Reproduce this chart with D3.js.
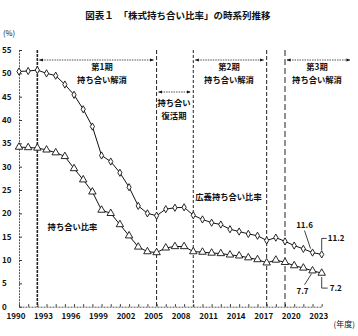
<!DOCTYPE html>
<html>
<head>
<meta charset="utf-8">
<script src="https://cdn.jsdelivr.net/npm/d3@7"></script>
<style>
  html, body { margin: 0; padding: 0; background: #fff; }
  svg { display: block; }
  text { font-family: "Noto Sans CJK JP", "Noto Sans", sans-serif; fill: #111; }
</style>
</head>
<body>
<svg id="chart" width="358" height="336"></svg>
<script>
// Fiscal years 1990–2023
const years = d3.range(1990, 2024);

// 広義持ち合い比率 (%)
const broadRatio = [50.4, 50.5, 50.7, 50.0, 49.5, 47.6, 45.4, 42.3, 38.6, 32.4,
                    31.1, 28.7, 25.6, 21.6, 20.0, 19.5, 20.9, 21.2, 21.3, 19.6,
                    18.7, 18.0, 17.6, 16.6, 16.1, 15.6, 15.2, 14.2, 14.8, 14.0,
                    13.1, 12.4, 11.6, 11.2];

// 持ち合い比率 (%)
const crossRatio = [34.2, 34.1, 34.0, 33.6, 33.0, 32.2, 29.6, 27.2, 24.6, 20.7,
                    20.0, 17.6, 15.2, 12.8, 11.8, 11.6, 12.6, 12.9, 12.9, 11.8,
                    11.7, 11.5, 11.4, 11.1, 10.9, 10.5, 10.1, 9.4, 10.0, 9.5,
                    8.8, 8.3, 7.7, 7.2];

const xTickYears = [1990, 1993, 1996, 1999, 2002, 2005, 2008, 2011, 2014, 2017, 2020, 2023];
const yTickValues = [0, 5, 10, 15, 20, 25, 30, 35, 40, 45, 50, 55];

// Period boundaries (fiscal years)
const boundaryYears = [1992, 2005, 2009, 2017, 2019];

// Period labels
const periods = [
  { lines: ["第1期", "持ち合い解消"] },
  { lines: ["持ち合い", "復活期"] },
  { lines: ["第2期", "持ち合い解消"] },
  { lines: ["第3期", "持ち合い解消"] }
];

const svg = d3.select("#chart");

const x = d3.scaleLinear().domain([1990, 2023]).range([19, 321.7]);
const y = d3.scaleLinear().domain([0, 55]).range([306.7, 50]);

const numFont = "'Liberation Sans Narrow', 'DejaVu Sans Condensed', sans-serif";

// Title
svg.append("text")
  .attr("x", 178).attr("y", 19)
  .attr("text-anchor", "middle")
  .attr("font-size", 9.5).attr("font-weight", "bold")
  .text("図表１　「株式持ち合い比率」の時系列推移");

// Unit labels
svg.append("text").attr("x", 3).attr("y", 36).attr("font-size", 7.5).text("(%)");
svg.append("text").attr("x", 355).attr("y", 327).attr("text-anchor", "end")
  .attr("font-size", 8).text("(年度)");

// Y axis (labels flush left)
const yAxis = svg.append("g").attr("transform", `translate(${x(1990)},0)`)
  .call(d3.axisLeft(y).tickValues(yTickValues).tickSizeInner(-3).tickSizeOuter(0));
yAxis.select(".domain").attr("stroke", "#555").attr("stroke-dasharray", "2,1");
yAxis.selectAll(".tick line").attr("stroke", "#333");
yAxis.selectAll(".tick text")
  .attr("x", 2 - x(1990)).attr("text-anchor", "start")
  .attr("font-size", 8).attr("font-weight", 600).attr("font-family", numFont);

// X axis
const xAxis = svg.append("g").attr("transform", `translate(0,${y(0)})`)
  .call(d3.axisBottom(x).tickValues(years).tickSizeInner(-2.5).tickSizeOuter(0)
    .tickFormat(d => xTickYears.includes(d) ? d : ""));
xAxis.select(".domain").attr("stroke", "#555").attr("stroke-dasharray", "2,1");
xAxis.selectAll(".tick line").attr("stroke", "#333");
xAxis.selectAll(".tick text").attr("font-size", 8).attr("font-weight", 600)
  .attr("dx", -3.5).attr("dy", "1.15em").attr("font-family", numFont);

// Period boundary lines
const dashes = ["3,1", "4,2", "3,2", "4,2", "6,3"];
const widths = [1.6, 1, 1, 1, 1];
svg.append("g").selectAll("line").data(boundaryYears).join("line")
  .attr("x1", d => x(d)).attr("x2", d => x(d))
  .attr("y1", y(55)).attr("y2", y(0))
  .attr("stroke", "#222")
  .attr("stroke-width", (d, i) => widths[i])
  .attr("stroke-dasharray", (d, i) => dashes[i]);

// Arrowheads
const defs = svg.append("defs");
defs.append("marker").attr("id", "arrowEnd")
  .attr("viewBox", "0 0 10 10").attr("refX", 9).attr("refY", 5)
  .attr("markerWidth", 5).attr("markerHeight", 5).attr("orient", "auto")
  .append("path").attr("d", "M0,1L10,5L0,9Z").attr("fill", "#111");
defs.append("marker").attr("id", "arrowStart")
  .attr("viewBox", "0 0 10 10").attr("refX", 1).attr("refY", 5)
  .attr("markerWidth", 5).attr("markerHeight", 5).attr("orient", "auto")
  .append("path").attr("d", "M10,1L0,5L10,9Z").attr("fill", "#111");

// Period arrows and labels
const periodLayout = [
  { x1: x(1992) + 2, x2: x(2005) - 3, ay: 60, cx: 102, ty: 70 },
  { x1: x(2005) + 2, x2: x(2009) - 3, ay: 92, cx: 174, ty: 106 },
  { x1: x(2009) + 2, x2: x(2017) - 3, ay: 60, cx: 229, ty: 70 },
  { x1: x(2019) + 2, x2: 350, ay: 60, cx: 317, ty: 70 }
];
periods.forEach((p, i) => {
  const L = periodLayout[i];
  svg.append("line")
    .attr("x1", L.x1).attr("x2", L.x2).attr("y1", L.ay).attr("y2", L.ay)
    .attr("stroke", "#222").attr("stroke-width", 0.8).attr("stroke-dasharray", "1.5,1")
    .attr("marker-start", "url(#arrowStart)").attr("marker-end", "url(#arrowEnd)");
  p.lines.forEach((t, j) => {
    svg.append("text").attr("x", L.cx).attr("y", L.ty + j * 12.5)
      .attr("text-anchor", "middle").attr("font-size", 8.3).attr("font-weight", 600)
      .text(t);
  });
});

// Series lines
const line = d3.line().x((d, i) => x(years[i])).y(d => y(d));
svg.append("path").datum(broadRatio).attr("d", line)
  .attr("fill", "none").attr("stroke", "#111").attr("stroke-width", 1);
svg.append("path").datum(crossRatio).attr("d", line)
  .attr("fill", "none").attr("stroke", "#111").attr("stroke-width", 1);

// Markers
svg.append("g").selectAll("path").data(broadRatio).join("path")
  .attr("transform", (d, i) => `translate(${x(years[i])},${y(d)})`)
  .attr("d", d3.symbol(d3.symbolDiamond, 15))
  .attr("fill", "#fff").attr("stroke", "#111").attr("stroke-width", 0.9);
svg.append("g").selectAll("path").data(crossRatio).join("path")
  .attr("transform", (d, i) => `translate(${x(years[i])},${y(d)})`)
  .attr("d", d3.symbol(d3.symbolTriangle, 24))
  .attr("fill", "#fff").attr("stroke", "#111").attr("stroke-width", 0.9);

// Series labels
svg.append("text").attr("x", 72.5).attr("y", 230).attr("text-anchor", "middle")
  .attr("font-size", 8.3).attr("font-weight", 600).text("持ち合い比率");
svg.append("text").attr("x", 228.5).attr("y", 200).attr("text-anchor", "middle")
  .attr("font-size", 8.3).attr("font-weight", 600).text("広義持ち合い比率");

// Value callouts for the last two years
const n = years.length;
const callout = svg.append("g").attr("stroke", "#111").attr("stroke-width", 0.8).attr("fill", "none");
const xPrev = x(years[n - 2]), xLast = x(years[n - 1]);
const bPrev = y(broadRatio[n - 2]), bLast = y(broadRatio[n - 1]);
const cPrev = y(crossRatio[n - 2]), cLast = y(crossRatio[n - 1]);

callout.append("path").attr("d", `M${xPrev - 2},${bPrev - 4}L${xPrev - 8},${bPrev - 22}`);
callout.append("path").attr("d", `M${xLast},${bLast - 4}V${bLast - 16}H${xLast + 5}`);
callout.append("path").attr("d", `M${xPrev - 1},${cPrev + 3}L${xPrev - 8},${cPrev + 14}`);
callout.append("path").attr("d", `M${xLast},${cLast + 4}V${cLast + 15}H${xLast + 6}`);

svg.append("text").attr("x", xPrev - 8).attr("y", bPrev - 25).attr("text-anchor", "middle")
  .attr("font-size", 8).attr("font-weight", 600).attr("font-family", numFont)
  .text(broadRatio[n - 2].toFixed(1));
svg.append("text").attr("x", xLast + 6).attr("y", bLast - 13)
  .attr("font-size", 8).attr("font-weight", 600).attr("font-family", numFont)
  .text(broadRatio[n - 1].toFixed(1));
svg.append("text").attr("x", xPrev - 10).attr("y", cPrev + 23).attr("text-anchor", "middle")
  .attr("font-size", 8).attr("font-weight", 600).attr("font-family", numFont)
  .text(crossRatio[n - 2].toFixed(1));
svg.append("text").attr("x", xLast + 8).attr("y", cLast + 18)
  .attr("font-size", 8).attr("font-weight", 600).attr("font-family", numFont)
  .text(crossRatio[n - 1].toFixed(1));
</script>
</body>
</html>
